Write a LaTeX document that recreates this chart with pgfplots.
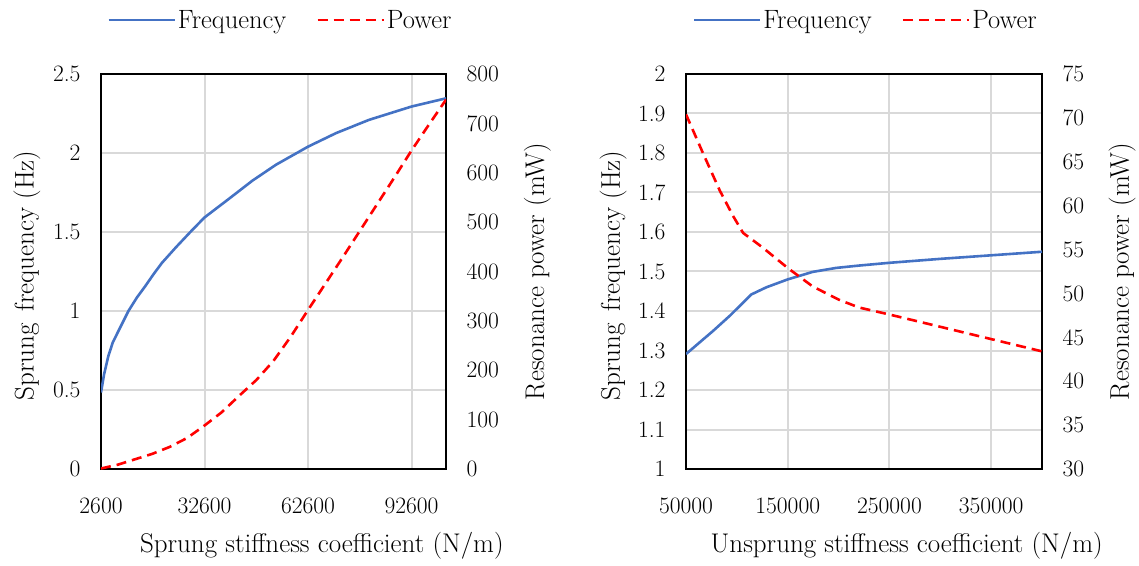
\documentclass[border=0pt]{standalone}
\usepackage{pgfplots}
\pgfplotsset{compat=1.18}
\definecolor{fblue}{RGB}{68,114,196}
\definecolor{gridgray}{RGB}{217,217,217}
\newcommand\tfont{\fontsize{23.5}{27}\selectfont}
\newcommand\lfont{\fontsize{27}{31}\selectfont}
\newcommand\gfont{\fontsize{26.5}{30}\selectfont}
\pgfplotsset{
  base/.style={scale only axis, anchor=south west, height=395pt,
    /pgf/number format/assume math mode=true,
    /pgf/number format/fixed,
    /pgf/number format/1000 sep={},
    scaled ticks=false,
    major tick length=0pt,
    tick style={draw=none},
    tick label style={font=\tfont},
    label style={font=\lfont},
  },
  prim/.style={base, axis line style={black,line width=1.3pt},
    grid=major, grid style={gridgray, line width=2pt},
    xticklabel style={yshift=-25pt},
    yticklabel style={xshift=-17pt},
    legend style={draw=none, fill=none, font=\gfont, legend columns=2, anchor=center,
      /tikz/every even column/.append style={column sep=28pt}},
    legend cell align=left,
  },
  sec/.style={base, xtick=\empty, axis line style={draw=none},
    ytick pos=right, yticklabel pos=right, yticklabel style={xshift=17pt}},
  fline/.style={fblue, line width=2.6pt},
  pline/.style={red, line width=2.6pt, dash pattern=on 10pt off 6pt},
}
\begin{document}
\begin{tikzpicture}
\useasboundingbox (0pt,0pt) rectangle (1139pt,565pt);
% ---------- left panel ----------
\begin{axis}[prim, at={(101pt,96pt)}, width=345pt,
  xmin=2600, xmax=102600, xtick={2600,32600,62600,92600},
  ymin=0, ymax=2.5, ytick={0,0.5,1,1.5,2,2.5},
  xlabel={Sprung stiffness coefficient (N/m)},
  xlabel style={at={(axis description cs:0.64,-0.195)}, anchor=center},
  ylabel={Sprung\hspace{0.45em}frequency (Hz)},
  ylabel style={at={(axis description cs:-0.215,0.49)}, anchor=center},
  legend style={at={(axis description cs:0.52,1.137)}},
  legend image code/.code={\draw[#1] (0pt,0pt) -- (66pt,0pt);},
]
\addplot[fline] coordinates {(2600,0.484) (3500,0.60) (4730,0.715) (6000,0.80) (7640,0.873) (10550,1.0) (13000,1.085) (15420,1.157) (17800,1.232) (20280,1.305) (24400,1.405) (28500,1.50) (32600,1.592) (39680,1.71) (46490,1.825) (53340,1.926) (62600,2.04) (70740,2.126) (80320,2.21) (92600,2.294) (102600,2.346)};
\addlegendentry{Frequency}
\addlegendimage{pline}
\addlegendentry{Power}
\end{axis}
\begin{axis}[sec, at={(101pt,96pt)}, width=345pt,
  xmin=2600, xmax=102600,
  ymin=0, ymax=800, ytick={0,100,...,800},
  ylabel={Resonance power (mW)},
  ylabel style={at={(axis description cs:1.265,0.5)}, anchor=center},
]
\addplot[pline] coordinates {(2600,1) (7600,9) (12600,20) (17600,31) (22600,45) (27600,63) (32600,88) (37600,115) (42600,148) (47600,180) (52600,219) (57600,268) (62600,322) (67600,375) (72600,428) (77600,482) (82600,536) (87600,590) (92600,645) (97600,697) (102600,748)};
\end{axis}
% ---------- right panel ----------
\begin{axis}[prim, at={(686pt,96pt)}, width=356pt,
  xmin=50000, xmax=400000, xtick={50000,150000,250000,350000},
  ymin=1, ymax=2, ytick={1,1.1,1.2,1.3,1.4,1.5,1.6,1.7,1.8,1.9,2},
  xlabel={Unsprung stiffness coefficient (N/m)},
  xlabel style={at={(axis description cs:0.62,-0.195)}, anchor=center},
  ylabel={Sprung\hspace{0.45em}frequency (Hz)},
  ylabel style={at={(axis description cs:-0.205,0.49)}, anchor=center},
  legend style={at={(axis description cs:0.505,1.137)}},
  legend image code/.code={\draw[#1] (0pt,0pt) -- (66pt,0pt);},
]
\addplot[fline] coordinates {(50000,1.291) (76800,1.350) (93100,1.388) (110000,1.431) (114300,1.442) (129000,1.460) (150000,1.480) (174500,1.499) (197400,1.509) (220000,1.515) (250000,1.522) (300000,1.532) (350000,1.541) (400000,1.550)};
\addlegendentry{Frequency}
\addlegendimage{pline}
\addlegendentry{Power}
\end{axis}
\begin{axis}[sec, at={(686pt,96pt)}, width=356pt,
  xmin=50000, xmax=400000,
  ymin=30, ymax=75, ytick={30,35,...,75},
  ylabel={Resonance power (mW)},
  ylabel style={at={(axis description cs:1.225,0.5)}, anchor=center},
]
\addplot[pline] coordinates {(50000,70.4) (67000,65.9) (83300,61.7) (96400,58.8) (106100,56.9) (125700,55.2) (150000,52.9) (174500,50.8) (200000,49.3) (220000,48.4) (250000,47.6) (300000,46.2) (350000,44.8) (400000,43.4)};
\end{axis}
\end{tikzpicture}
\end{document}
